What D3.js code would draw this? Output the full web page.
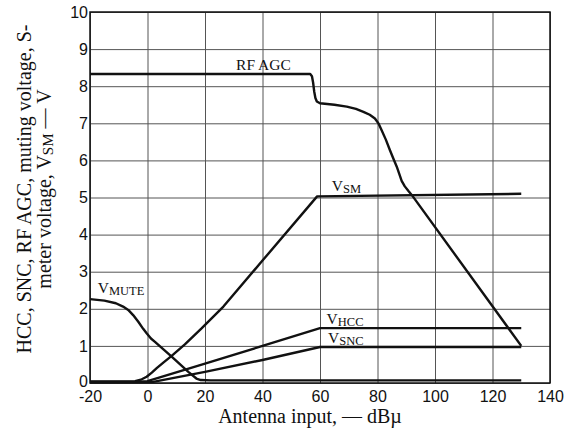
<!DOCTYPE html>
<html><head><meta charset="utf-8">
<script src="https://cdn.jsdelivr.net/npm/d3@7"></script>
<style>
html,body{margin:0;padding:0;background:#fff;}
svg{display:block;}
</style></head>
<body><svg id="c" width="576" height="434"></svg>
<script>
const xTicks = [-20, 0, 20, 40, 60, 80, 100, 120, 140];
const yTicks = [0, 1, 2, 3, 4, 5, 6, 7, 8, 9, 10];

const rfAgc = [[-20,8.33],[56.6,8.33],[57.2,8.27],[57.6,8.1],[58.0,7.85],[58.4,7.68],[58.9,7.59],[60,7.54],[65,7.5],[69.3,7.45],[72.5,7.39],[75.1,7.31],[77.3,7.23],[79.1,7.13],[80.4,6.99],[81.4,6.82],[82.9,6.56],[84.3,6.28],[85.5,6.05],[86.7,5.83],[87.6,5.63],[88.4,5.45],[89.5,5.3],[90.7,5.18],[91.9,5.07],[130,1.0]];
const vSM = [[-20,0.04],[-4.3,0.05],[-2,0.1],[-0.3,0.17],[1.5,0.28],[3.2,0.4],[5.5,0.55],[8.4,0.73],[13,1.04],[18.8,1.47],[26.4,2.06],[40,3.3],[59,5.03],[130,5.1]];
const vMute = [[-20,2.26],[-15,2.22],[-11,2.15],[-8.5,2.06],[-6.7,1.97],[-5,1.83],[-3.2,1.65],[-1.5,1.46],[-0.3,1.34],[1.2,1.2],[2.6,1.11],[8.4,0.71],[14.2,0.30],[17,0.12],[18.5,0.08],[22,0.07],[130,0.07]];
const vHCC = [[-20,0.03],[-4,0.03],[0,0.05],[20,0.52],[40,1.0],[60,1.48],[130,1.48]];
const vSNC = [[-20,0.02],[2,0.03],[20,0.3],[40,0.62],[60,0.97],[130,0.97]];

const labels = [
  {main:"RF AGC", sub:"", x:30.8, y:8.44},
  {main:"V", sub:"SM", x:64.1, y:5.18},
  {main:"V", sub:"MUTE", x:-17.3, y:2.43},
  {main:"V", sub:"HCC", x:62.3, y:1.6},
  {main:"V", sub:"SNC", x:62.8, y:1.08}
];

const svg = d3.select("#c");
const L = 90, R = 550, T = 12, B = 383;
const x = d3.scaleLinear().domain([-20,140]).range([L,R]);
const y = d3.scaleLinear().domain([0,10]).range([B,T]);

// grid + tick labels
const gx = svg.append("g").attr("transform",`translate(0,${B})`)
  .call(d3.axisBottom(x).tickValues(xTicks).tickSize(-(B-T)).tickPadding(8).tickFormat(d=>String(d)));
const gy = svg.append("g").attr("transform",`translate(${L},0)`)
  .call(d3.axisLeft(y).tickValues(yTicks).tickSize(-(R-L)).tickPadding(2).tickFormat(d=>String(d)));
[gx,gy].forEach(g=>{
  g.select(".domain").remove();
  g.selectAll(".tick line").attr("stroke","#555").attr("stroke-width",1);
  g.selectAll(".tick text").attr("font-family","'Liberation Sans', Arial, sans-serif").attr("font-size",16).attr("fill","#111");
});
gx.selectAll(".tick text").attr("dy","0.71em");
gy.selectAll(".tick text").attr("dy", d => d === 0 ? "0.2em" : "0.32em");

svg.append("rect").attr("x",L).attr("y",T).attr("width",R-L).attr("height",B-T)
  .attr("fill","none").attr("stroke","#111").attr("stroke-width",1.5);

const line = d3.line().x(d=>x(d[0])).y(d=>y(d[1])).curve(d3.curveLinear);
[rfAgc, vSM, vMute, vHCC, vSNC].forEach(s=>{
  svg.append("path").datum(s).attr("d",line).attr("fill","none")
    .attr("stroke","#111").attr("stroke-width",2.4).attr("stroke-linejoin","round");
});

labels.forEach(l=>{
  const t = svg.append("text").attr("x",x(l.x)).attr("y",y(l.y))
    .attr("font-family","'Liberation Serif','Times New Roman',serif").attr("font-size",15.5).attr("fill","#111");
  t.append("tspan").text(l.main);
  if(l.sub) t.append("tspan").attr("font-size",12.5).attr("dy",2).text(l.sub);
});

// axis titles
svg.append("text").attr("x",310).attr("y",423).attr("text-anchor","middle")
  .attr("font-family","'Liberation Serif','Times New Roman',serif").attr("font-size",20).attr("fill","#111")
  .text("Antenna input, — dBµ");

const yt = svg.append("g").attr("transform","translate(31,189) rotate(-90)")
  .attr("font-family","'Liberation Serif','Times New Roman',serif").attr("font-size",20).attr("fill","#111");
yt.append("text").attr("text-anchor","middle").attr("x",0).attr("y",0)
  .text("HCC, SNC, RF AGC, muting voltage, S-");
const l2 = yt.append("text").attr("text-anchor","middle").attr("x",0).attr("y",20);
l2.append("tspan").text("meter voltage, V");
l2.append("tspan").attr("font-size",15).attr("dy",2).text("SM");
l2.append("tspan").attr("dy",-2).text(" — V");
</script>
</body></html>
